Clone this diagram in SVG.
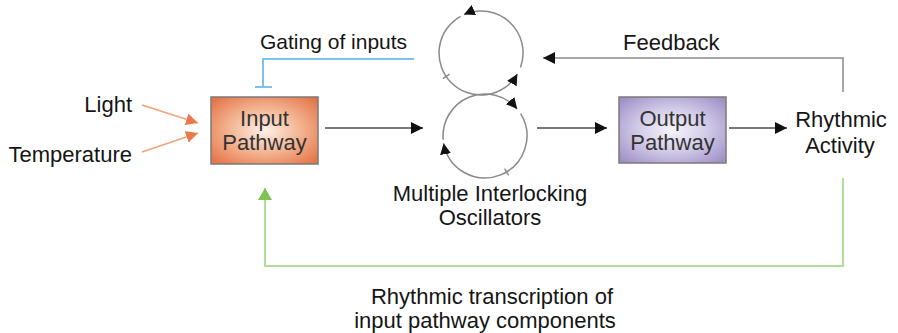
<svg xmlns="http://www.w3.org/2000/svg" width="898" height="333" viewBox="0 0 898 333">
<style>
text{font-family:"Liberation Sans",Arial,sans-serif;font-size:22px;fill:#151515}
.c{text-anchor:middle}
.bt{fill:#333}
.k{fill:none;stroke:#4a4a4a;stroke-width:1.5}
.osc{fill:none;stroke:#8a8a8a;stroke-width:1.5}
.fb{fill:none;stroke:#8a8a8a;stroke-width:1.5}
.or{fill:none;stroke:#f2a27c;stroke-width:1.6}
.bl{fill:none;stroke:#7cc3ea;stroke-width:2}
.gr{fill:none;stroke:#b3dc98;stroke-width:2}
</style>
<defs>
<radialGradient id="gIn" cx="50%" cy="50%" r="65%">
<stop offset="0" stop-color="#fdf0e8"/>
<stop offset="0.5" stop-color="#f3b694"/>
<stop offset="1" stop-color="#e6764a"/>
</radialGradient>
<radialGradient id="gOut" cx="50%" cy="50%" r="65%">
<stop offset="0" stop-color="#f6f4fb"/>
<stop offset="0.5" stop-color="#d2cbe8"/>
<stop offset="1" stop-color="#a092c8"/>
</radialGradient>
<marker id="aK" markerUnits="userSpaceOnUse" markerWidth="14" markerHeight="12" refX="12" refY="6" orient="auto"><path d="M0,0 L12,6 L0,12 Z" fill="#111"/></marker>
<marker id="aS" markerUnits="userSpaceOnUse" markerWidth="13" markerHeight="11" refX="11" refY="5.5" orient="auto"><path d="M0,0 L11,5.5 L0,11 Z" fill="#111"/></marker>
<marker id="aO" markerUnits="userSpaceOnUse" markerWidth="14" markerHeight="12" refX="12" refY="6" orient="auto"><path d="M0,0 L12,6 L0,12 Z" fill="#ea7a4c"/></marker>
<marker id="aG" markerUnits="userSpaceOnUse" markerWidth="14" markerHeight="14" refX="12" refY="7" orient="auto"><path d="M0,0 L12,7 L0,14 Z" fill="#7fc152"/></marker>
</defs>

<g id="connectors">
<line class="k" x1="325" y1="128" x2="423" y2="128" marker-end="url(#aK)"/>
<line class="k" x1="537" y1="128" x2="607" y2="128" marker-end="url(#aK)"/>
<line class="k" x1="729" y1="128" x2="787" y2="128" marker-end="url(#aK)"/>
<polyline class="fb" points="843,92 843,58 543,58" marker-end="url(#aK)"/>
<polyline class="bl" points="414,59 263,59 263,87"/>
<line class="bl" x1="255" y1="87" x2="272" y2="87"/>
<polyline class="gr" points="843,178 843,266 265,266 265,188" marker-end="url(#aG)"/>
<line class="or" x1="142" y1="105" x2="198" y2="123" marker-end="url(#aO)"/>
<line class="or" x1="142" y1="152" x2="198" y2="133" marker-end="url(#aO)"/>
</g>

<g id="oscillators">
<path class="osc" d="M520.5,67.4 A42,42 0 0 0 463.9,14.6" marker-end="url(#aS)"/>
<path class="osc" d="M460.6,16.3 A42,42 0 1 0 517.4,74.0" marker-end="url(#aS)"/>
<line class="osc" x1="449.5" y1="74.2" x2="442.9" y2="78.7"/>
<path class="osc" d="M443.2,139.7 A42,42 0 0 1 517.2,109.0" marker-end="url(#aS)"/>
<path class="osc" d="M520.6,113.7 A42,42 0 1 1 443.6,143.3" marker-end="url(#aS)"/>
<line class="osc" x1="504.6" y1="168.6" x2="508.7" y2="175.4"/>
<text class="c" x="490" y="201">Multiple Interlocking</text>
<text class="c" x="490" y="225">Oscillators</text>
</g>

<g id="input">
<rect x="211" y="97" width="107" height="67" fill="url(#gIn)" stroke="#7a7a7a" stroke-width="1.5"/>
<text class="c bt" x="264.5" y="126">Input</text>
<text class="c bt" x="264.5" y="150">Pathway</text>
</g>

<g id="output">
<rect x="619" y="97" width="107" height="66" fill="url(#gOut)" stroke="#7a7a7a" stroke-width="1.5"/>
<text class="c bt" x="672.5" y="126">Output</text>
<text class="c bt" x="672.5" y="150">Pathway</text>
</g>

<g id="light"><text x="132" y="112" text-anchor="end">Light</text></g>
<g id="temperature"><text x="132" y="162" text-anchor="end">Temperature</text></g>
<g id="rhythmic-activity">
<text class="c" x="841" y="127">Rhythmic</text>
<text class="c" x="840" y="153">Activity</text>
</g>
<g id="labels">
<text x="260" y="49" style="font-size:21px">Gating of inputs</text>
<text x="623" y="50">Feedback</text>
<text class="c" x="492" y="304">Rhythmic transcription of</text>
<text class="c" x="485" y="328">input pathway components</text>
</g>
</svg>
